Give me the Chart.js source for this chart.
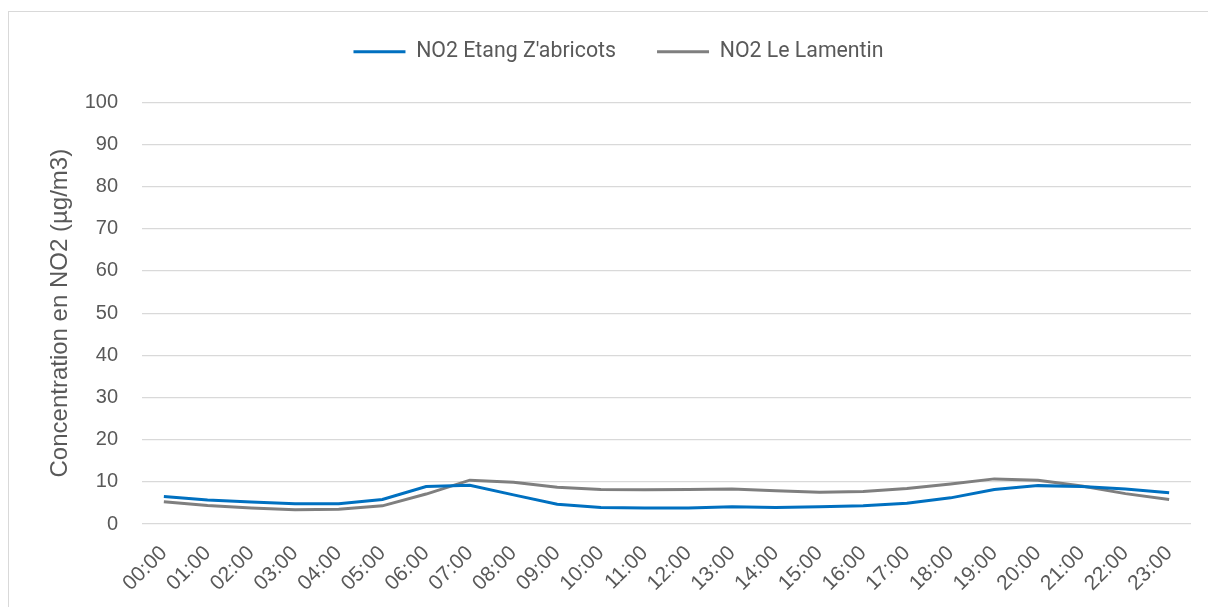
<!DOCTYPE html>
<html>
<head>
<meta charset="utf-8">
<script src="https://cdn.jsdelivr.net/npm/chart.js@4/dist/chart.umd.min.js"></script>
<style>
    body { margin: 0; background: #fff; overflow: hidden; }
    #frame { position: absolute; left: 8px; top: 11px; width: 1220px; height: 620px; border: 1px solid #d9d9d9; }
    #wrap { position: absolute; left: 0; top: 0; width: 1208px; height: 607px; }
</style>
</head>
<body>
<div id="frame"></div>
<div id="wrap"><canvas id="no2Chart"></canvas></div>
<script>
const hours = ['00:00', '01:00', '02:00', '03:00', '04:00', '05:00', '06:00', '07:00',
    '08:00', '09:00', '10:00', '11:00', '12:00', '13:00', '14:00', '15:00',
    '16:00', '17:00', '18:00', '19:00', '20:00', '21:00', '22:00', '23:00'];
const etangZabricots = [6.5, 5.7, 5.2, 4.8, 4.8, 5.8, 8.9, 9.2, 6.9, 4.7, 3.9, 3.8,
    3.8, 4.1, 3.9, 4.1, 4.3, 4.9, 6.2, 8.2, 9.1, 8.9, 8.3, 7.4];
const leLamentin = [5.3, 4.4, 3.8, 3.4, 3.5, 4.3, 7.1, 10.4, 9.9, 8.7, 8.2, 8.1,
    8.2, 8.3, 7.9, 7.5, 7.7, 8.4, 9.5, 10.7, 10.4, 9.0, 7.2, 5.8];

const textColor = '#595959';
const gridColor = '#d9d9d9';

// extra room under the legend
const legendGap = {
    id: 'legendGap',
    beforeInit(chart) {
        const fit = chart.legend.fit;
        chart.legend.fit = function() {
            fit.bind(chart.legend)();
            this.height += 30;
        };
    }
};

document.addEventListener('DOMContentLoaded', function() {
    const ctx = document.getElementById('no2Chart').getContext('2d');
    new Chart(ctx, {
        type: 'line',
        data: {
            labels: hours,
            datasets: [{
                label: "NO2 Etang Z'abricots",
                data: etangZabricots,
                borderColor: '#0070c0',
                backgroundColor: '#0070c0',
                borderWidth: 3,
                pointRadius: 0,
                tension: 0
            }, {
                label: 'NO2 Le Lamentin',
                data: leLamentin,
                borderColor: '#7f7f7f',
                backgroundColor: '#7f7f7f',
                borderWidth: 3,
                pointRadius: 0,
                tension: 0
            }]
        },
        options: {
            responsive: true,
            maintainAspectRatio: false,
            animation: false,
            layout: {
                padding: { left: 46, right: 17, top: 0, bottom: 0 }
            },
            plugins: {
                legend: {
                    position: 'top',
                    labels: {
                        boxWidth: 52,
                        boxHeight: 0,
                        padding: 41,
                        color: textColor,
                        font: { family: 'Roboto', size: 21.3 }
                    }
                },
                tooltip: { enabled: false }
            },
            scales: {
                x: {
                    offset: true,
                    grid: { display: false, drawTicks: false },
                    border: { display: false },
                    afterFit(scale) { scale.height = 83; },
                    ticks: {
                        minRotation: 45,
                        maxRotation: 45,
                        autoSkip: false,
                        padding: 17,
                        color: textColor,
                        font: { family: 'Liberation Sans', size: 21 }
                    }
                },
                y: {
                    min: 0,
                    max: 100,
                    grid: { color: gridColor, lineWidth: 1.3, drawTicks: false },
                    border: { display: false },
                    afterFit(scale) { scale.width = 96; },
                    ticks: {
                        stepSize: 10,
                        padding: 24,
                        color: textColor,
                        font: { family: 'Liberation Sans', size: 20 }
                    },
                    title: {
                        display: true,
                        text: 'Concentration en NO2 (µg/m3)',
                        color: textColor,
                        padding: { top: 0, bottom: 10 },
                        font: { family: 'Liberation Sans', size: 24 }
                    }
                }
            }
        },
        plugins: [legendGap]
    });
});
</script>
</body>
</html>
